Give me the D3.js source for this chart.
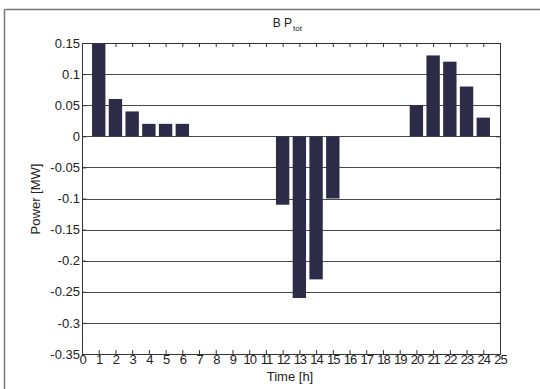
<!DOCTYPE html>
<html><head><meta charset="utf-8">
<script src="https://cdn.jsdelivr.net/npm/d3@7"></script>
<style>body{margin:0;background:#fff;}svg{display:block;font-family:"Liberation Sans",Arial,sans-serif;}</style>
</head><body>
<svg id="c" width="540" height="389"></svg>
<script>
const hours = [1,2,3,4,5,6,7,8,9,10,11,12,13,14,15,16,17,18,19,20,21,22,23,24];
const power = [0.15,0.06,0.04,0.02,0.02,0.02,0,0,0,0,0,-0.11,-0.26,-0.23,-0.10,0,0,0,0,0.05,0.13,0.12,0.08,0.03];
const xTicks = d3.range(0,26);
const yTicks = [0.15,0.1,0.05,0,-0.05,-0.1,-0.15,-0.2,-0.25,-0.3,-0.35];

const svg = d3.select("#c");
const L=82, R=500, T=43, B=354;
const x = d3.scaleLinear().domain([0,25]).range([L,R]);
const y = d3.scaleLinear().domain([-0.35,0.15]).range([B,T]);
const ink="#333";

// outer frame
svg.append("line").attr("x1",4.5).attr("x2",4.5).attr("y1",9.5).attr("y2",389).attr("stroke","#777").attr("stroke-width",1.5);
svg.append("line").attr("x1",4.5).attr("x2",540).attr("y1",9.5).attr("y2",9.5).attr("stroke","#777").attr("stroke-width",1.5);

// grid
svg.append("g").selectAll("line").data(yTicks.filter(d=>d>-0.35 && d<0.15)).join("line")
  .attr("x1",L).attr("x2",R).attr("y1",d=>Math.round(y(d))+0.5).attr("y2",d=>Math.round(y(d))+0.5)
  .attr("stroke","#4a4a4a").attr("stroke-width",1);

// bars
const bw = 0.8;
svg.append("g").selectAll("rect").data(hours.map((h,i)=>({h,v:power[i]})).filter(d=>d.v!==0)).join("rect")
  .attr("x",d=>x(d.h-bw/2)).attr("width",d=>x(bw)-x(0))
  .attr("y",d=>y(Math.max(0,d.v))).attr("height",d=>Math.abs(y(d.v)-y(0)))
  .attr("fill","#2c2c48");

// axes
const ax = svg.append("g").attr("transform",`translate(0,${B})`)
  .call(d3.axisBottom(x).tickValues(xTicks).tickSize(-4).tickPadding(2).tickFormat(d3.format("d")));
const axT = svg.append("g").attr("transform",`translate(0,${T})`)
  .call(d3.axisTop(x).tickValues(xTicks).tickSize(-4).tickFormat(""));
const ay = svg.append("g").attr("transform",`translate(${L},0)`)
  .call(d3.axisLeft(y).tickValues(yTicks).tickSize(-4).tickPadding(2).tickFormat(d=>String(+d.toFixed(2))));
const ayR = svg.append("g").attr("transform",`translate(${R},0)`)
  .call(d3.axisRight(y).tickValues(yTicks).tickSize(-4).tickFormat(""));
[ax,axT,ay,ayR].forEach(g=>{
  g.selectAll("path").attr("stroke",ink).attr("stroke-width",1);
  g.selectAll("line").attr("stroke",ink);
  g.selectAll("text").attr("fill","#222").style("font-size","13px").style("font-family","'Liberation Sans',Arial,sans-serif");
});
ax.selectAll("text").attr("dy","0.6em").style("letter-spacing","-1px");

// labels
svg.append("text").attr("x",292).attr("y",27).attr("text-anchor","end").attr("font-size",12).attr("fill","#222").text("B P");
svg.append("text").attr("x",293).attr("y",31).attr("font-size",8).attr("fill","#222").text("tot");
svg.append("text").attr("x",290).attr("y",381).attr("text-anchor","middle").attr("font-size",13).attr("fill","#222").text("Time [h]");
svg.append("text").attr("transform","translate(40,199) rotate(-90)").attr("text-anchor","middle").attr("font-size",13).attr("fill","#222").text("Power [MW]");
</script>
</body></html>
